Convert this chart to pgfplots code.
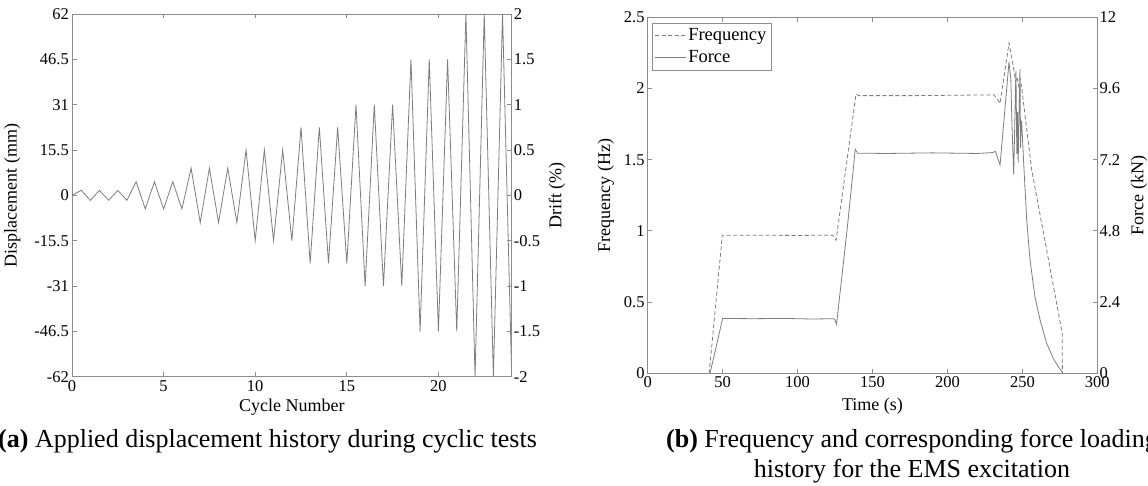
\documentclass[border=0pt]{standalone}
\usepackage{fontspec}
\setmainfont{Liberation Serif}
\usepackage{pgfplots}
\pgfplotsset{compat=1.18}
\definecolor{ln}{RGB}{125,125,125}
\definecolor{ax}{RGB}{140,140,140}
\pgfplotsset{
  base/.style={
    scale only axis,
    axis line style={ax, line width=0.8pt},
    tick style={ax, line width=0.8pt},
    major tick length=4.5pt,
    tick align=inside,
    tick label style={font=\fontsize{16.5}{18}\selectfont, text=black},
    label style={font=\fontsize{18}{20}\selectfont},
    /pgf/number format/assume math mode=true,
  },
  lefty/.style={yticklabel style={inner sep=3pt}},
  righty/.style={yticklabel style={inner sep=2pt}},
}
\begin{document}
\begin{tikzpicture}
% ================= (a) =================
\begin{axis}[base, lefty,
  at={(72pt,109.3pt)}, anchor=south west, width=439.7pt, height=362.7pt,
  xmin=0, xmax=24, ymin=-62, ymax=62,
  xtick={0,5,10,15,20}, xticklabels={0,5,10,15,20},
  ytick={-62,-46.5,-31,-15.5,0,15.5,31,46.5,62},
  yticklabels={-62,-46.5,-31,-15.5,0,15.5,31,46.5,62},
  ytick pos=left,
  xlabel={Cycle Number},
  xlabel style={at={(axis description cs:0.5,0)}, anchor=base, yshift=-35pt},
  ylabel={Displacement (mm)},
  ylabel style={at={(axis description cs:-0.136,0.5)}, anchor=center},
]
\addplot[ln, line width=0.8pt] coordinates {
(0,0)
(0.5,1.7)(1,-1.7)(1.5,1.7)(2,-1.7)(2.5,1.7)(3,-1.7)
(3.5,4.65)(4,-4.65)(4.5,4.65)(5,-4.65)(5.5,4.65)(6,-4.65)
(6.5,9.3)(7,-9.3)(7.5,9.3)(8,-9.3)(8.5,9.3)(9,-9.3)
(9.5,15.5)(10,-15.5)(10.5,15.5)(11,-15.5)(11.5,15.5)(12,-15.5)
(12.5,23.25)(13,-23.25)(13.5,23.25)(14,-23.25)(14.5,23.25)(15,-23.25)
(15.5,31)(16,-31)(16.5,31)(17,-31)(17.5,31)(18,-31)
(18.5,46.5)(19,-46.5)(19.5,46.5)(20,-46.5)(20.5,46.5)(21,-46.5)
(21.5,62)(22,-62)(22.5,62)(23,-62)(23.5,62)(24,-62)
};
\end{axis}
\begin{axis}[base, righty,
  at={(72pt,109.3pt)}, anchor=south west, width=439.7pt, height=362.7pt,
  xmin=0, xmax=24, ymin=-2, ymax=2,
  axis x line=none, axis y line*=right,
  ytick={-2,-1.5,-1,-0.5,0,0.5,1,1.5,2},
  yticklabels={-2,-1.5,-1,-0.5,0,0.5,1,1.5,2},
  ylabel={Drift (\%)},
  ylabel style={at={(axis description cs:1.103,0.5)}, anchor=center},
]
\end{axis}
% ================= (b) =================
\begin{axis}[base, lefty,
  at={(647.7pt,112.7pt)}, anchor=south west, width=449.6pt, height=356pt,
  xmin=0, xmax=300, ymin=0, ymax=2.5,
  xtick={0,50,100,150,200,250,300}, xticklabels={0,50,100,150,200,250,300},
  ytick={0,0.5,1,1.5,2,2.5}, yticklabels={0,0.5,1,1.5,2,2.5},
  ytick pos=left,
  xlabel={Time (s)},
  xlabel style={at={(axis description cs:0.5,0)}, anchor=base, yshift=-37.5pt},
  ylabel={Frequency (Hz)},
  ylabel style={at={(axis description cs:-0.093,0.5)}, anchor=center},
]
\addplot[ln, line width=0.8pt, dash pattern=on 4pt off 2.5pt] coordinates {
(41,0)(49.8,0.97)(70,0.97)(100,0.968)(122,0.97)(124,0.965)(125.7,0.935)
(139,1.96)(141,1.95)(180,1.95)(228,1.955)(231,1.955)(233,1.93)(235.1,1.895)
(241.1,2.32)(244,2.15)(245.5,2.05)(246.5,2.08)(247.5,2.02)(248.5,2.07)(249.5,2.01)
(256.2,1.43)(276.6,0.28)(276.7,0)
};
\end{axis}
\begin{axis}[base, righty,
  at={(647.7pt,112.7pt)}, anchor=south west, width=449.6pt, height=356pt,
  xmin=0, xmax=300, ymin=0, ymax=12,
  axis x line=none, axis y line*=right,
  ytick={0,2.4,4.8,7.2,9.6,12}, yticklabels={0,2.4,4.8,7.2,9.6,12},
  ylabel={Force (kN)},
  ylabel style={at={(axis description cs:1.093,0.5)}, anchor=center},
  legend style={at={(0.009,0.985)}, anchor=north west, draw=ax, fill=white,
    font=\fontsize{18.5}{20}\selectfont, inner xsep=3pt, inner ysep=4.5pt,
    nodes={inner sep=1.5pt}, row sep=5pt},
  legend cell align=left,
  legend image code/.code={\draw[#1] (0pt,0pt) -- (31pt,0pt);},
]
\addlegendimage{ln, line width=0.8pt, dash pattern=on 4pt off 2.5pt}
\addlegendentry{Frequency}
\addplot[ln, line width=0.8pt] coordinates {
(41.6,0)(46,0.96)(50,1.85)(70,1.84)(90,1.85)(110,1.83)(124,1.84)(125,1.80)(126,1.65)
(133,4.82)(138.5,7.55)(140,7.42)(160,7.41)(190,7.43)(220,7.41)(230,7.44)(232,7.48)(235.1,7.02)
(241.1,10.5)(242.3,9.9)(243,8.5)(244.2,6.7)(245.7,10.2)(246.3,7.4)(246.8,8.8)(247.2,7.1)
(247.6,8.2)(248.4,10.25)(248.8,7.6)(249.2,8.5)(249.5,8.5)
(251.1,6.86)(252.9,5.17)(255.1,3.82)(258.4,2.58)(261.8,1.80)(266.2,1.01)(270.6,0.50)
(274,0.22)(276.6,0.05)(277,0)
};
\addlegendentry{Force}
\end{axis}
% captions
\node[anchor=base west, font=\fontsize{26}{30}\selectfont, inner sep=0pt] at (-2pt,38pt)
  {\textbf{(a)} Applied displacement history during cyclic tests};
\node[anchor=base, font=\fontsize{26}{30}\selectfont, inner sep=0pt] at (912pt,38pt)
  {\textbf{(b)} Frequency and corresponding force loading};
\node[anchor=base, font=\fontsize{26}{30}\selectfont, inner sep=0pt] at (912pt,8pt)
  {history for the EMS excitation};
\pgfresetboundingbox
\useasboundingbox (0pt,0pt) rectangle (1148pt,486pt);
\end{tikzpicture}
\end{document}
